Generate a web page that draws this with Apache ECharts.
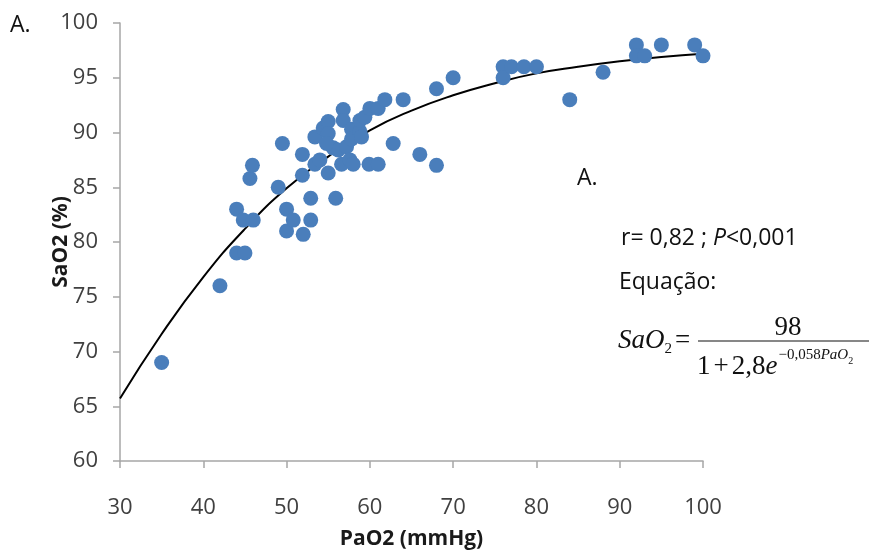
<!DOCTYPE html>
<html>
<head>
<meta charset="utf-8">
<title>SaO2 x PaO2</title>
<script src="https://cdn.jsdelivr.net/npm/echarts@6/dist/echarts.min.js"></script>
<style>
    html, body { margin: 0; padding: 0; background: #fff; }
    #main { width: 871px; height: 553px; }
</style>
</head>
<body>
<div id="main"></div>
<script>
// pontos (PaO2, SaO2)
var pao2 = [35, 42, 44, 45, 44, 44.8, 46, 45.6, 45.9, 49, 49.5, 50, 50, 50.8, 52, 52.9, 52.9, 51.9, 51.9, 53.4,
            53.4, 54.4, 55, 55, 54, 55, 55.9, 55.6, 56.2, 56.6, 57.2, 57.6, 58, 56.8, 56.8, 57.8, 57.8, 58.8, 58.8, 59.4,
            60, 61, 59.9, 61, 61.8, 62.8, 64, 66, 68, 68, 70, 76, 76, 77, 78.5, 80, 84, 88, 92, 92,
            93, 95, 99, 100, 54.8, 59];
var sao2 = [69, 76, 79, 79, 83, 82, 82, 85.8, 87, 85, 89, 83, 81, 82, 80.7, 82, 84, 86.1, 88, 87.1,
            89.6, 90.4, 91, 89.9, 87.5, 86.3, 84, 88.6, 88.4, 87.1, 88.7, 87.5, 87.1, 92.1, 91.1, 90.3, 89.4, 90.1, 91.1, 91.4,
            92.2, 92.2, 87.1, 87.1, 93, 89, 93, 88, 87, 94, 95, 96, 95, 96, 96, 96, 93, 95.5, 98, 97,
            97, 98, 98, 97, 89, 89.6];

// curva ajustada
var curveX = [30, 35, 40, 45, 50, 55, 60, 65, 70, 75, 80, 85, 90, 95, 100];
var curveY = [65.7, 71.6, 76.8, 81.2, 84.9, 87.8, 90.2, 92.0, 93.4, 94.5, 95.4, 96.0, 96.5, 96.9, 97.2];

var xTicks = [30, 40, 50, 60, 70, 80, 90, 100];
var yTicks = [60, 65, 70, 75, 80, 85, 90, 95, 100];

var pontos = [];
for (var i = 0; i < pao2.length; i++) {
    pontos.push([pao2[i], sao2[i]]);
}
var curva = [];
for (var j = 0; j < curveX.length; j++) {
    curva.push([curveX[j], curveY[j]]);
}

var chart = echarts.init(document.getElementById('main'));
var eixoCor = '#a6a6a6';
var serif = '"Liberation Serif", "DejaVu Serif", serif';

// mede largura de texto pra montar a equacao
var cv = document.createElement('canvas').getContext('2d');
function larg(txt, size, italic) {
    cv.font = (italic ? 'italic ' : '') + size + 'px ' + serif;
    return cv.measureText(txt).width;
}
function peca(txt, x, y, size, italic) {
    return { type: 'text', x: x, y: y, style: { text: txt, fontFamily: serif, fontStyle: italic ? 'italic' : 'normal', fontSize: size, fill: '#111', verticalAlign: 'middle' } };
}

var eq = [];
var px = 618;
eq.push(peca('SaO', px, 341, 27, true));
px += larg('SaO', 27, true);
eq.push(peca('2', px, 349, 15, false));
eq.push(peca('=', 675, 341, 27, false));
eq.push({ type: 'line', shape: { x1: 698, y1: 341, x2: 869, y2: 341 }, style: { stroke: '#111', lineWidth: 1.2 } });
eq.push({ type: 'text', x: 788, y: 328, style: { text: '98', fontFamily: serif, fontSize: 27, fill: '#111', align: 'center', verticalAlign: 'middle' } });
px = 697;
eq.push(peca('1', px, 367, 27, false));
px += larg('1', 27, false) + 3;
eq.push(peca('+', px, 367, 27, false));
px += larg('+', 27, false) + 3;
eq.push(peca('2,8', px, 367, 27, false));
px += larg('2,8', 27, false);
eq.push(peca('e', px, 367, 27, true));
px += larg('e', 27, true) + 1;
eq.push(peca('−0,058', px, 355, 15, false));
px += larg('−0,058', 15, false);
eq.push(peca('PaO', px, 355, 15, true));
px += larg('PaO', 15, true);
eq.push(peca('2', px, 361, 10, false));

var textos = [
    { type: 'text', left: 10, top: 14, style: { text: 'A.', fontFamily: 'Open Sans', fontSize: 23, fill: '#111' } },
    { type: 'text', left: 577, top: 167, style: { text: 'A.', fontFamily: 'Open Sans', fontSize: 23, fill: '#111' } },
    {
        type: 'text', left: 621, top: 227,
        style: {
            text: 'r= 0,82 ; {i|P}<0,001',
            fontFamily: 'Open Sans', fontSize: 23, fill: '#111',
            rich: { i: { fontStyle: 'italic', fontFamily: 'Open Sans', fontSize: 23, fill: '#111' } }
        }
    },
    { type: 'text', left: 619, top: 271, style: { text: 'Equação:', fontFamily: 'Open Sans', fontSize: 23, fill: '#111' } }
];

var option = {
    backgroundColor: '#fff',
    animation: false,
    grid: { left: 120, right: 168, top: 23, bottom: 92, outerBoundsMode: 'none', containLabel: false },
    xAxis: {
        type: 'value',
        min: xTicks[0],
        max: xTicks[xTicks.length - 1],
        interval: 10,
        name: 'PaO2 (mmHg)',
        nameLocation: 'middle',
        nameGap: 68,
        nameMoveOverlap: false,
        nameTextStyle: { fontFamily: 'Open Sans', fontWeight: 'bold', fontSize: 21, color: '#1a1a1a' },
        axisLine: { lineStyle: { color: eixoCor, width: 1.5 } },
        axisTick: { show: true, length: 7, lineStyle: { color: eixoCor, width: 1.5 } },
        axisLabel: { fontFamily: 'Open Sans', fontSize: 22, color: '#404040', margin: 36 },
        splitLine: { show: false }
    },
    yAxis: {
        type: 'value',
        min: yTicks[0],
        max: yTicks[yTicks.length - 1],
        interval: 5,
        name: 'SaO2 (%)',
        nameLocation: 'middle',
        nameGap: 48,
        nameMoveOverlap: false,
        nameTextStyle: { fontFamily: 'Open Sans', fontWeight: 'bold', fontSize: 21, color: '#1a1a1a' },
        axisLine: { show: true, lineStyle: { color: eixoCor, width: 1.5 } },
        axisTick: { show: true, length: 7, lineStyle: { color: eixoCor, width: 1.5 } },
        axisLabel: { fontFamily: 'Open Sans', fontSize: 22, color: '#404040', margin: 22 },
        splitLine: { show: false }
    },
    series: [
        {
            type: 'line',
            data: curva,
            smooth: true,
            showSymbol: false,
            z: 2,
            lineStyle: { color: '#000', width: 2 }
        },
        {
            type: 'scatter',
            data: pontos,
            symbolSize: 15,
            z: 3,
            itemStyle: { color: '#4a7ebb', opacity: 1 }
        }
    ],
    graphic: textos.concat(eq)
};

chart.setOption(option);
</script>
</body>
</html>
